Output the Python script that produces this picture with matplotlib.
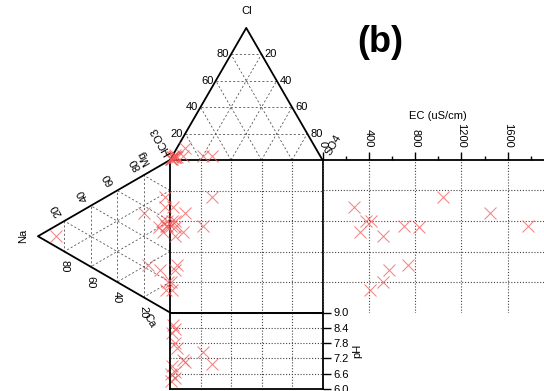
import numpy as np
import matplotlib
matplotlib.use('Agg')
import matplotlib.pyplot as plt

plt.rcParams['font.family'] = ['Liberation Sans', 'DejaVu Sans']

# ---- data (percent of meq) ----
na   = [4, 5, 2, 6, 86, 3, 8, 4, 20, 2, 7.5, 17, 1.5, 3]
mg   = [67, 50.5, 59, 57, 7, 55.5, 52, 74, 55.5, 56, 24, 22.5, 19, 13.5]
ca   = [29, 44.5, 39, 37, 7, 41.5, 40, 22, 24.5, 42, 68.5, 60.5, 79.5, 83.5]
cl   = [2, 3, 1, 2, 4, 3, 2, 3, 9, 1, 2, 2, 1, 2]
so4  = [1, 7, 1, 2, 1, 20, 2, 26, 5.5, 0, 2, 3.5, 0, 0.5]
hco3 = [97, 90, 98, 96, 95, 77, 96, 71, 85.5, 99, 96, 94.5, 99, 97.5]
ec   = [270, 322, 374, 417, 522, 704, 835, 1043, 1443, 1774, 574, 739, 522, 409]
ph   = [8.5, 7.15, 8.2, 7.8, 6.45, 7.45, 6.65, 7.0, 7.05, 6.3, 8.35, 7.6, 6.6, 6.9]

grid_vals = [20, 40, 60, 80]
ec_ticks = [0, 400, 800, 1200, 1600]
ec_minor = [200, 600, 1000, 1400, 1800]
ph_ticks = [6.0, 6.6, 7.2, 7.8, 8.4, 9.0]

W, H = 544, 391
fig = plt.figure(figsize=(W / 100, H / 100), dpi=100)
S = 1.525          # pixels per percent
x0 = 170           # px of square left edge
sq_top = 160       # px from top of square top edge
sq_bot = H - (sq_top + 100 * S)   # px from bottom of square bottom edge
h = np.sqrt(3) / 2

ax = fig.add_axes([0, 0, 1, 1])
ax.set_xlim(-x0 / S, (W - x0) / S)
ax.set_ylim(-sq_bot / S, (H - sq_bot) / S)
ax.axis('off')

def top_xy(c, s):
    c = np.asarray(c, float); s = np.asarray(s, float)
    return s + c / 2, 100 + h * c

def left_xy(n, m):
    n = np.asarray(n, float); m = np.asarray(m, float)
    return -h * n, m + n / 2

dash = dict(color='#555555', lw=0.6, ls=(0, (2.5, 2.5)))
dot = dict(color='#444444', lw=0.8, ls=(0, (1, 1.6)))
frame = dict(color='black', lw=1.3, solid_capstyle='butt')

# top triangle grid
for k in grid_vals:
    ax.plot(*zip(top_xy(k, 0), top_xy(k, 100 - k)), **dash)
    ax.plot(*zip(top_xy(0, k), top_xy(100 - k, k)), **dash)
    ax.plot(*zip(top_xy(0, 100 - k), top_xy(100 - k, 0)), **dash)
# left triangle grid
for k in grid_vals:
    ax.plot(*zip(left_xy(k, 0), left_xy(k, 100 - k)), **dash)
    ax.plot(*zip(left_xy(0, k), left_xy(100 - k, k)), **dash)
    ax.plot(*zip(left_xy(0, 100 - k), left_xy(100 - k, 0)), **dash)
# square grid
for k in grid_vals:
    ax.plot([k, k], [0, 100], **dot)
    ax.plot([0, 100], [k, k], **dot)

# outlines
tv = [top_xy(0, 0), top_xy(100, 0), top_xy(0, 100)]
ax.plot([tv[0][0], tv[1][0], tv[2][0]], [tv[0][1], tv[1][1], tv[2][1]], **frame)
lv = [left_xy(0, 100), left_xy(100, 0), left_xy(0, 0)]
ax.plot([v[0] for v in lv], [v[1] for v in lv], **frame)
ax.plot([0, 0, 100, 100], [0, 100, 100, 0], **frame)
ax.plot([0, 100], [0, 0], **frame)

# tick labels on triangles
fs = 8
for k in grid_vals:
    ax.annotate(str(k), top_xy(k, 0), xytext=(-2, 0), textcoords='offset pixels',
                ha='right', va='center', fontsize=fs)
    ax.annotate(str(k), top_xy(100 - k, k), xytext=(3, 0), textcoords='offset pixels',
                ha='left', va='center', fontsize=fs)
    ax.annotate(str(k), left_xy(100 - k, k), xytext=(-8, 11), textcoords='offset pixels',
                ha='center', va='center', fontsize=fs, rotation=120)
    ax.annotate(str(k), left_xy(k, 0), xytext=(0, -15), textcoords='offset pixels',
                ha='center', va='center', fontsize=fs, rotation=-90)

ax.annotate('Cl', top_xy(100, 0), xytext=(0, 17), textcoords='offset pixels',
            ha='center', va='center', fontsize=fs)
ax.annotate('HCO3', top_xy(0, 0), xytext=(-9, 19), textcoords='offset pixels',
            ha='center', va='center', fontsize=fs, rotation=120)
ax.annotate('SO4', top_xy(0, 100), xytext=(11, 15), textcoords='offset pixels',
            ha='center', va='center', fontsize=fs, rotation=60)
ax.annotate('Mg', left_xy(0, 100), xytext=(-26, 2), textcoords='offset pixels',
            ha='center', va='center', fontsize=fs, rotation=120)
ax.annotate('Na', left_xy(100, 0), xytext=(-15, 0), textcoords='offset pixels',
            ha='center', va='center', fontsize=fs, rotation=90)
ax.annotate('Ca', left_xy(0, 0), xytext=(-20, -8), textcoords='offset pixels',
            ha='center', va='center', fontsize=fs, rotation=-60)

mk = dict(ls='none', marker='x', ms=8, mew=0.75, color='#f05a5a', alpha=0.75, clip_on=False)
tx, ty = top_xy(cl, so4)
ax.plot(tx, ty, **mk)
lx, ly = left_xy(na, mg)
ax.plot(lx, ly, **mk)
ax.plot(tx, ly, **mk)

# EC panel
ec_px = 46.3 / 400
ax_ec = fig.add_axes([(x0 + 100 * S) / W, sq_bot / H, 2000 * ec_px / W, 100 * S / H])
ax_ec.set_xlim(0, 2000)
ax_ec.set_ylim(0, 100)
ax_ec.patch.set_alpha(0)
for s in ['left', 'right', 'bottom']:
    ax_ec.spines[s].set_visible(False)
ax_ec.spines['top'].set_linewidth(1.3)
ax_ec.xaxis.tick_top()
ax_ec.set_xticks(ec_ticks)
ax_ec.set_xticks(ec_minor, minor=True)
ax_ec.tick_params(axis='x', which='major', direction='out', length=6, width=1,
                  labelsize=fs, labelrotation=-90, pad=3)
ax_ec.tick_params(axis='x', which='minor', direction='out', length=3, width=1)
ax_ec.set_yticks(grid_vals)
ax_ec.tick_params(axis='y', length=0, labelleft=False)
ax_ec.grid(True, which='major', **dot)
ax_ec.xaxis.set_label_position('top')
ax_ec.set_xlabel('EC (uS/cm)', fontsize=8, labelpad=3)
ax_ec.plot(ec, ly, **mk)

# pH panel
ph_h = 76.5
ax_ph = fig.add_axes([x0 / W, (sq_bot - ph_h) / H, 100 * S / W, ph_h / H])
ax_ph.set_xlim(0, 100)
ax_ph.set_ylim(6, 9)
ax_ph.patch.set_alpha(0)
for s in ax_ph.spines.values():
    s.set_linewidth(1.3)
ax_ph.set_xticks(grid_vals)
ax_ph.tick_params(axis='x', length=0, labelbottom=False)
ax_ph.yaxis.tick_right()
ax_ph.set_yticks(ph_ticks)
ax_ph.set_yticklabels([f'{v:.1f}' for v in ph_ticks])
ax_ph.tick_params(axis='y', direction='out', length=6, width=1, labelsize=8, pad=2)
ax_ph.grid(True, **dot)
ax_ph.yaxis.set_label_position('right')
ax_ph.set_ylabel('pH', fontsize=8, labelpad=2)
ax_ph.plot(tx, ph, **mk)

fig.text(380 / W, 1 - 43 / H, '(b)', fontsize=26, fontweight='bold',
         ha='center', va='center')

fig.savefig('out.png', dpi=100)
